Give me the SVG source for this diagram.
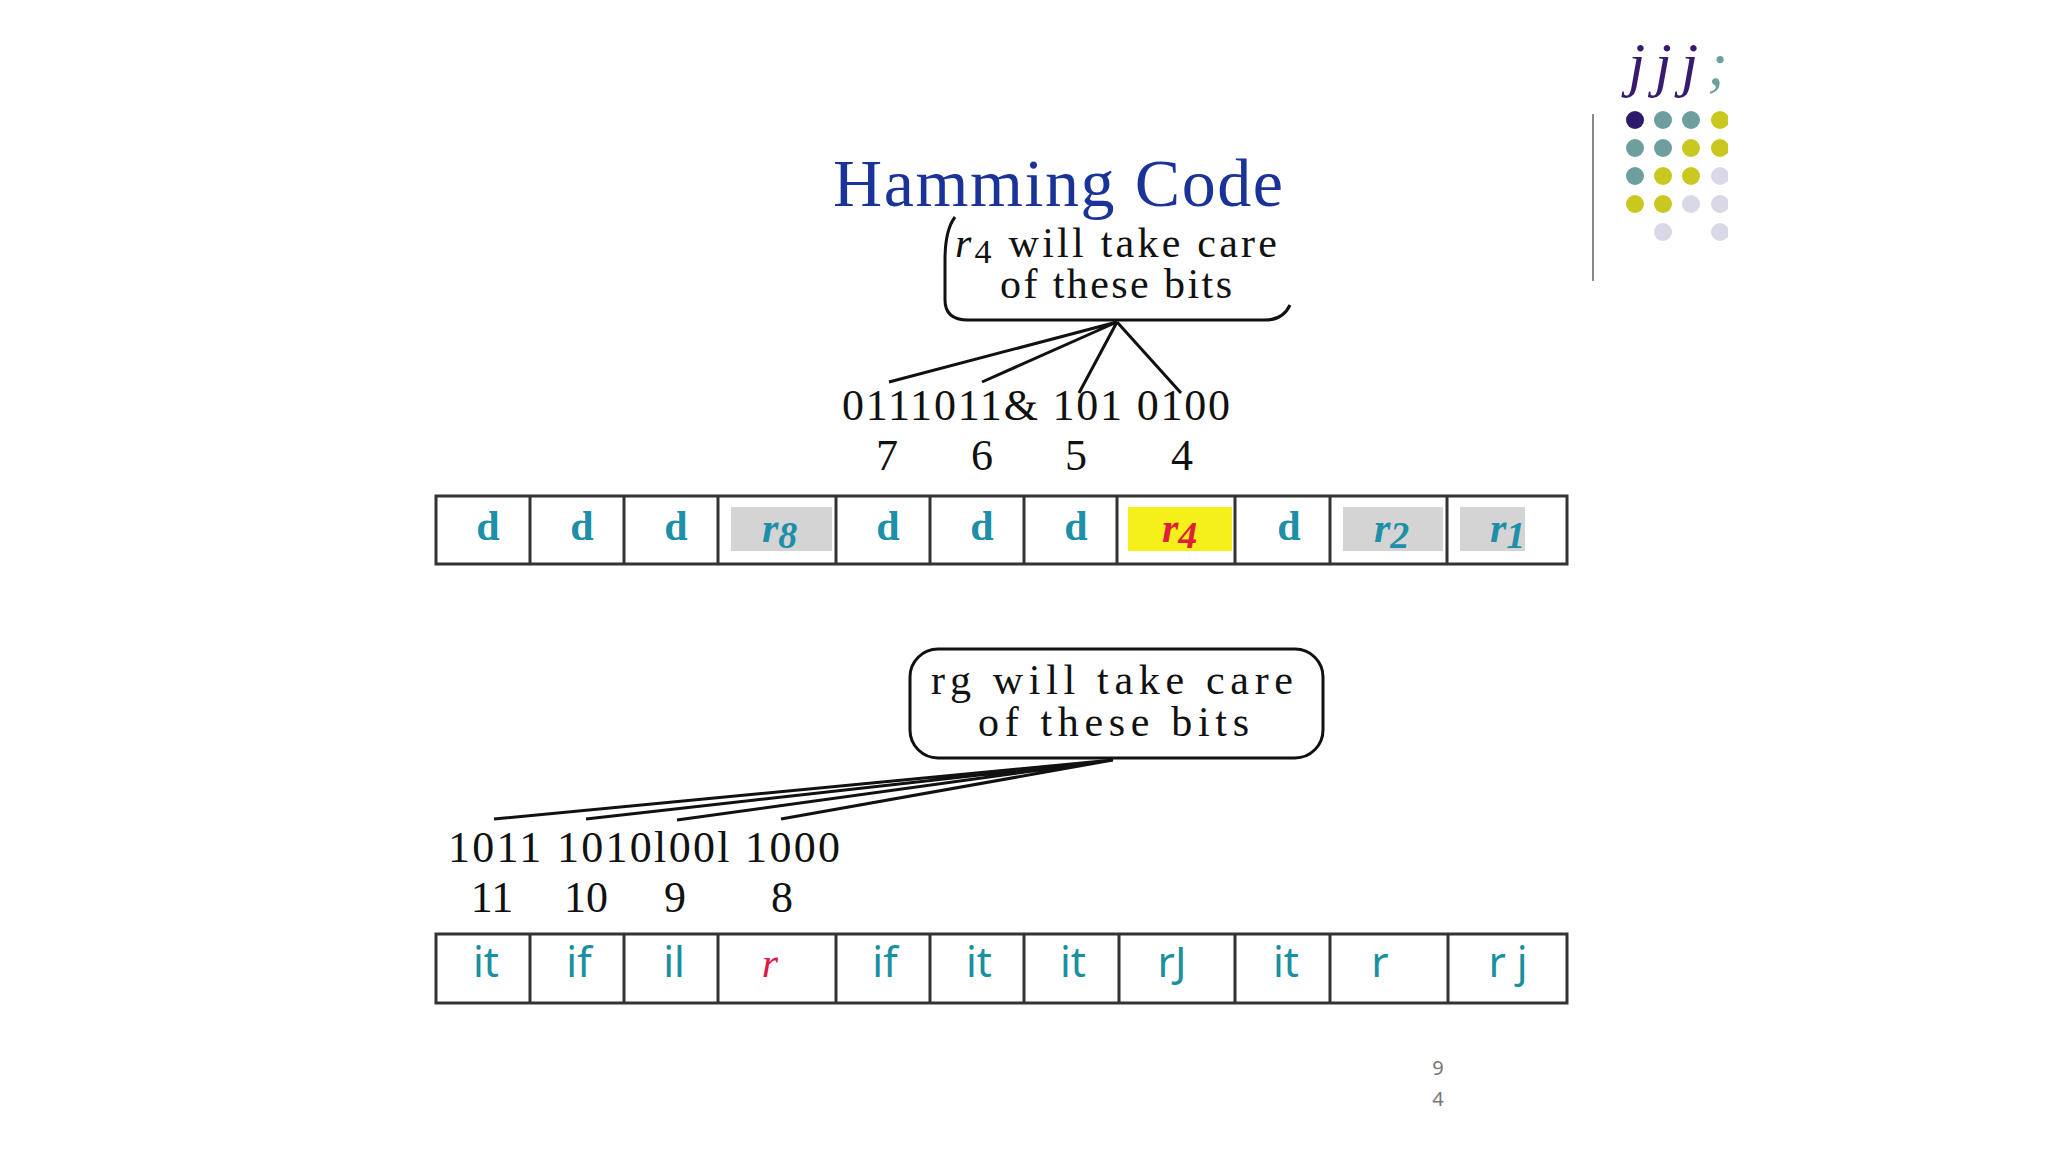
<svg xmlns="http://www.w3.org/2000/svg" width="2048" height="1152" viewBox="0 0 2048 1152">
<style>
.ser{font-family:"Liberation Serif","DejaVu Serif",serif}
.blk{fill:#111}
.d{font-family:"Liberation Serif",serif;font-weight:bold;font-size:42px;fill:#1e8fa8;text-anchor:middle}
.b{font-family:"Noto Sans","DejaVu Sans",sans-serif;font-size:42px;fill:#1a8fa0;text-anchor:middle}
.ln{stroke:#111;stroke-width:3;fill:none}
.cell{fill:none;stroke:#333;stroke-width:3}
.t{fill:#6f9e9e}.y{fill:#c8c820}.l{fill:#d8d8e6}
</style>
<rect width="2048" height="1152" fill="#fff"/>
<g id="logo">
<text x="1628" y="85" class="ser" font-style="italic" font-size="62" fill="#3a1a6e" textLength="100" lengthAdjust="spacing">jjj<tspan fill="#6f9e9e">;</tspan></text>
<line x1="1593" y1="114" x2="1593" y2="281" stroke="#888" stroke-width="2"/>
<clipPath id="cp"><rect x="1600" y="100" width="128" height="150"/></clipPath>
<g clip-path="url(#cp)">
<circle cx="1635" cy="120" r="9" fill="#2d1a6a"/><circle cx="1663" cy="120" r="9" class="t"/><circle cx="1691" cy="120" r="9" class="t"/><circle cx="1720" cy="120" r="9" class="y"/>
<circle cx="1635" cy="148" r="9" class="t"/><circle cx="1663" cy="148" r="9" class="t"/><circle cx="1691" cy="148" r="9" class="y"/><circle cx="1720" cy="148" r="9" class="y"/>
<circle cx="1635" cy="176" r="9" class="t"/><circle cx="1663" cy="176" r="9" class="y"/><circle cx="1691" cy="176" r="9" class="y"/><circle cx="1720" cy="176" r="9" class="l"/>
<circle cx="1635" cy="204" r="9" class="y"/><circle cx="1663" cy="204" r="9" class="y"/><circle cx="1691" cy="204" r="9" class="l"/><circle cx="1720" cy="204" r="9" class="l"/>
<circle cx="1663" cy="232" r="9" class="l"/><circle cx="1720" cy="232" r="9" class="l"/>
</g>
</g>
<g id="title"><text x="1058" y="206" class="ser" font-size="68" fill="#1a3399" text-anchor="middle" textLength="450" lengthAdjust="spacing">Hamming Code</text></g>
<g id="callout1">
<path class="ln" d="M 955 217 Q 945 230 945 260 L 945 300 Q 945 320 968 320 L 1265 320 Q 1283 320 1290 305"/>
<text class="ser blk" font-size="42" x="955" y="257" textLength="322" lengthAdjust="spacing"><tspan font-style="italic">r</tspan><tspan font-size="34" dy="6">4</tspan><tspan dy="-6">  will take care</tspan></text>
<text class="ser blk" font-size="42" x="1000" y="298" textLength="232" lengthAdjust="spacing">of these bits</text>
</g>
<g id="connectors">
<path class="ln" d="M1117 322 L889 382 M1117 322 L982 382 M1117 322 L1079 393 M1117 322 L1181 393"/>
<path class="ln" d="M1113 760 L494 819 M1113 760 L586 819 M1113 760 L677 820 M1113 760 L781 819"/>
</g>
<g id="labels1">
<text class="ser blk" font-size="44" x="842" y="420" textLength="388" lengthAdjust="spacing">0111011&amp; 101 0100</text>
<text class="ser blk" font-size="44" text-anchor="middle" y="470"><tspan x="887">7</tspan><tspan x="982">6</tspan><tspan x="1076">5</tspan><tspan x="1182">4</tspan></text>
</g>
<g id="table1">
<rect x="731" y="507" width="101" height="44" fill="#d4d4d4"/>
<rect x="1128" y="507" width="104" height="44" fill="#f5ef1a"/>
<rect x="1343" y="507" width="100" height="44" fill="#d4d4d4"/>
<rect x="1460" y="507" width="65" height="44" fill="#d4d4d4"/>
<rect x="436" y="496" width="1131" height="68" class="cell"/>
<path class="cell" d="M530 496V564M624 496V564M718 496V564M836 496V564M930 496V564M1024 496V564M1117 496V564M1235 496V564M1330 496V564M1447 496V564"/>
<text class="d" y="540"><tspan x="488">d</tspan><tspan x="582">d</tspan><tspan x="676">d</tspan><tspan x="888">d</tspan><tspan x="982">d</tspan><tspan x="1076">d</tspan><tspan x="1289">d</tspan></text>
<text class="ser" font-style="italic" font-weight="bold" font-size="42" fill="#1e8fa8" y="542"><tspan x="762">r</tspan><tspan font-size="38" dy="6">8</tspan></text>
<text class="ser" font-style="italic" font-weight="bold" font-size="42" fill="#e0203a" y="542"><tspan x="1162">r</tspan><tspan font-size="38" dy="6">4</tspan></text>
<text class="ser" font-style="italic" font-weight="bold" font-size="42" fill="#1e8fa8" y="542"><tspan x="1374">r</tspan><tspan font-size="38" dy="6">2</tspan></text>
<text class="ser" font-style="italic" font-weight="bold" font-size="42" fill="#1e8fa8" y="542"><tspan x="1490">r</tspan><tspan font-size="38" dy="6">1</tspan></text>
</g>
<g id="callout2">
<rect x="910" y="649" width="413" height="109" rx="28" class="ln"/>
<text class="ser blk" font-size="42" x="931" y="694" textLength="362" lengthAdjust="spacing">rg  will take care</text>
<text class="ser blk" font-size="42" x="978" y="736" textLength="271" lengthAdjust="spacing">of these bits</text>
</g>
<g id="labels2">
<text class="ser blk" font-size="44" x="448" y="862" textLength="392" lengthAdjust="spacing">1011 1010l00l  1000</text>
<text class="ser blk" font-size="44" text-anchor="middle" y="912"><tspan x="492">11</tspan><tspan x="586">10</tspan><tspan x="675">9</tspan><tspan x="782">8</tspan></text>
</g>
<g id="table2">
<rect x="436" y="934" width="1131" height="69" class="cell"/>
<path class="cell" d="M530 934V1003M624 934V1003M718 934V1003M836 934V1003M930 934V1003M1024 934V1003M1119 934V1003M1235 934V1003M1330 934V1003M1448 934V1003"/>
<text class="b" y="977"><tspan x="486">it</tspan><tspan x="579">if</tspan><tspan x="674">il</tspan><tspan x="885">if</tspan><tspan x="979">it</tspan><tspan x="1073">it</tspan><tspan x="1172">rJ</tspan><tspan x="1286">it</tspan><tspan x="1380">r</tspan><tspan x="1508">r j</tspan></text>
<text class="ser" font-style="italic" font-size="42" fill="#d81b4a" x="770" y="977" text-anchor="middle">r</text>
</g>
<g id="page"><text font-family="Noto Sans,sans-serif" font-size="20" fill="#777" text-anchor="middle"><tspan x="1438" y="1075">9</tspan><tspan x="1438" y="1106">4</tspan></text></g>
</svg>
